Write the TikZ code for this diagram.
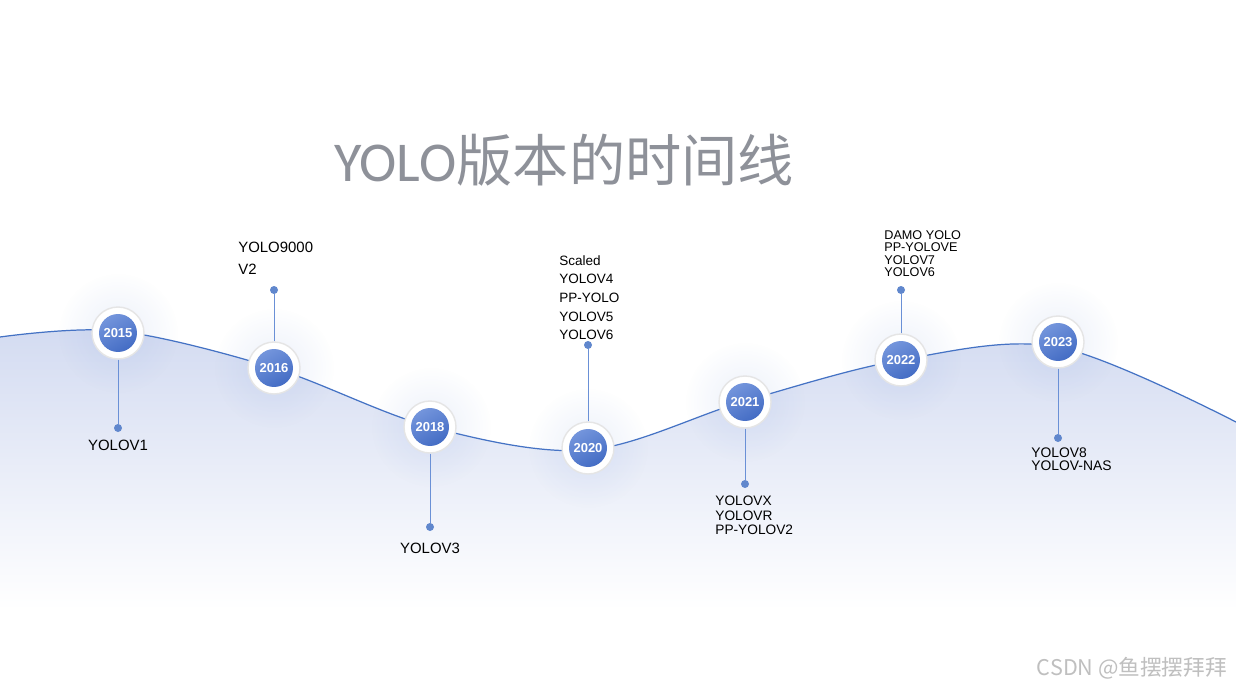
\documentclass[tikz,border=0pt]{standalone}
\usepackage{fontspec}
\setmainfont{Liberation Sans}
\newfontfamily\cjk{Noto Sans CJK SC}
\newfontfamily\carlito{Carlito}
\usetikzlibrary{positioning, fadings}

\definecolor{lineblue}{HTML}{4472C4}
\definecolor{stemblue}{HTML}{6A90D6}
\definecolor{ballhi}{HTML}{7C9CE0}
\definecolor{balllo}{HTML}{3B65C0}
\definecolor{areablue}{HTML}{D3DBF1}
\definecolor{titlegray}{HTML}{8E9199}
\tikzfading[name=glowfade, inner color=transparent!85, outer color=transparent!100]

\begin{document}
\begin{tikzpicture}[x=0.02cm, y=-0.02cm,
    yearball/.style={circle, fill=white, draw=black!10, line width=0.8pt,
                     minimum size=1.04cm, inner sep=0pt, text=white,
                     font=\fontsize{7.4}{8}\selectfont\bfseries,
                     path picture={\shade[top color=ballhi, bottom color=balllo, shading angle=30]
                                   (path picture bounding box.center) circle (0.38cm);}},
    pindot/.style={circle, fill=lineblue!85, minimum size=0.16cm, inner sep=0pt},
    stem/.style={stemblue, line width=0.55pt},
    lbl/.style={inner sep=0pt, align=left},
    glow/.style={fill=ballhi, path fading=glowfade},
  ]
  \useasboundingbox (0,0) rectangle (1236,689);
  \fill[white] (0,0) rectangle (1236,689);

  % area under the wave
  \shade[top color=areablue, middle color=areablue!45, bottom color=white]
    plot[smooth, tension=0.55] coordinates {(0,337) (118,331) (274,368) (431,427) (588,450) (745,401) (901,360) (1058,347) (1236,422)}
    -- (1236,610) -- (0,610) -- cycle;
  \draw[lineblue, line width=0.7pt]
    plot[smooth, tension=0.55] coordinates {(0,337) (118,331) (274,368) (431,427) (588,450) (745,401) (901,360) (1058,347) (1236,422)};

  % title
  \node[text=titlegray, font=\fontsize{32}{34}\selectfont] (title) at (564,160)
    {{\carlito YOLO}{\cjk 版本的时间线}};

  % soft halos
  \foreach \hx/\hy in {118/333, 274/368, 431/427, 588/448, 745/402, 901/360, 1058/342}
    \fill[glow] (\hx,\hy) circle (1.2cm);

  % year balls
  \node[yearball] (y2015) at (118,333) {2015};
  \node[yearball] (y2016) at (274,368) {2016};
  \node[yearball] (y2018) at (430,427) {2018};
  \node[yearball] (y2020) at (588,448) {2020};
  \node[yearball] (y2021) at (745,402) {2021};
  \node[yearball] (y2022) at (901,360) {2022};
  \node[yearball] (y2023) at (1058,342) {2023};

  % pin dots
  \node[pindot] (d2015) at (118,428) {};
  \node[pindot] (d2016) at (274,290) {};
  \node[pindot] (d2018) at (430,527) {};
  \node[pindot] (d2020) at (588,345) {};
  \node[pindot] (d2021) at (745,484) {};
  \node[pindot] (d2022) at (901,290) {};
  \node[pindot] (d2023) at (1058,438) {};

  \draw[stem] (y2015) -- (d2015);
  \draw[stem] (y2016) -- (d2016);
  \draw[stem] (y2018) -- (d2018);
  \draw[stem] (y2020) -- (d2020);
  \draw[stem] (y2021) -- (d2021);
  \draw[stem] (y2022) -- (d2022);
  \draw[stem] (y2023) -- (d2023);

  % version labels
  \node[lbl, font=\fontsize{8.5}{10}\selectfont, below=0.15cm of d2015] (v2015) {YOLOV1};
  \node[lbl, font=\fontsize{8.5}{12.5}\selectfont, anchor=north west] (v2016) at (238,241.5) {YOLO9000\\V2};
  \node[lbl, font=\fontsize{8.5}{10}\selectfont, below=0.23cm of d2018] (v2018) {YOLOV3};
  \node[lbl, font=\fontsize{7.7}{10.6}\selectfont, anchor=north west] (v2020) at (559,255)
    {Scaled\\YOLOV4\\PP-YOLO\\YOLOV5\\YOLOV6};
  \node[lbl, font=\fontsize{7.8}{8.2}\selectfont, anchor=north west] (v2021) at (715,496)
    {YOLOVX\\YOLOVR\\PP-YOLOV2};
  \node[lbl, font=\fontsize{7.2}{7}\selectfont, anchor=north west] (v2022) at (884,230.5)
    {DAMO YOLO\\PP-YOLOVE\\YOLOV7\\YOLOV6};
  \node[lbl, font=\fontsize{7.9}{7.9}\selectfont, anchor=north west] (v2023) at (1031,447)
    {YOLOV8\\YOLOV-NAS};

  % watermark
  \node[text=black!25, font=\cjk\fontsize{12.3}{13}\selectfont, anchor=east] (watermark) at (1233,668)
    {CSDN @鱼摆摆拜拜};
\end{tikzpicture}
\end{document}
